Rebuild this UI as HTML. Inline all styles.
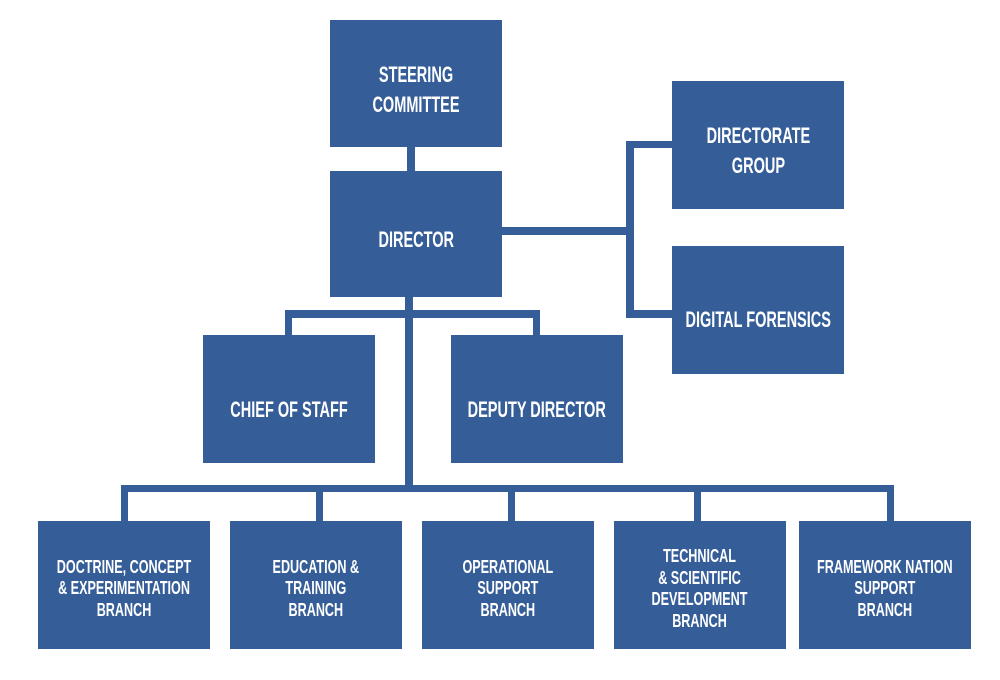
<!DOCTYPE html>
<html><head><meta charset="utf-8"><style>
body{margin:0;width:1000px;height:680px;background:#fff;position:relative;overflow:hidden}
.b{position:absolute;background:#355d98;color:#fff;display:flex;align-items:center;justify-content:center;text-align:center;box-sizing:border-box}
.b span{font-family:"Liberation Sans",sans-serif;font-weight:bold;font-size:22px;line-height:30px;transform:scaleX(0.66);white-space:nowrap;display:inline-block}
.s span{font-size:18px;line-height:21.5px;transform:scaleX(0.7)}
.l{position:absolute;background:#355d98}
</style></head><body>
<div class="l" style="left:407px;top:145px;width:8px;height:28px"></div>
<div class="l" style="left:500px;top:227px;width:134px;height:8px"></div>
<div class="l" style="left:626px;top:141px;width:8px;height:177px"></div>
<div class="l" style="left:626px;top:141px;width:48px;height:7px"></div>
<div class="l" style="left:626px;top:310px;width:48px;height:8px"></div>
<div class="l" style="left:405px;top:295px;width:8px;height:195px"></div>
<div class="l" style="left:285px;top:310px;width:255px;height:8px"></div>
<div class="l" style="left:285px;top:310px;width:7px;height:27px"></div>
<div class="l" style="left:533px;top:310px;width:7px;height:27px"></div>
<div class="l" style="left:121px;top:485px;width:773px;height:7px"></div>
<div class="l" style="left:121px;top:485px;width:7px;height:38px"></div>
<div class="l" style="left:316px;top:485px;width:7px;height:38px"></div>
<div class="l" style="left:508px;top:485px;width:7px;height:38px"></div>
<div class="l" style="left:694px;top:485px;width:7px;height:38px"></div>
<div class="l" style="left:887px;top:485px;width:7px;height:38px"></div>

<div class="b" style="left:330px;top:20px;width:172px;height:127px;padding-top:12px"><span>STEERING<br>COMMITTEE</span></div>
<div class="b" style="left:330px;top:171px;width:172px;height:126px;padding-top:12px"><span>DIRECTOR</span></div>
<div class="b" style="left:672px;top:81px;width:172px;height:128px;padding-top:12px"><span>DIRECTORATE<br>GROUP</span></div>
<div class="b" style="left:672px;top:246px;width:172px;height:128px;padding-top:20px"><span>DIGITAL FORENSICS</span></div>
<div class="b" style="left:203px;top:335px;width:172px;height:128px;padding-top:22px"><span>CHIEF OF STAFF</span></div>
<div class="b" style="left:451px;top:335px;width:172px;height:128px;padding-top:22px"><span>DEPUTY DIRECTOR</span></div>
<div class="b s" style="left:38px;top:521px;width:172px;height:128px;padding-top:8px"><span>DOCTRINE, CONCEPT<br>&amp; EXPERIMENTATION<br>BRANCH</span></div>
<div class="b s" style="left:230px;top:521px;width:172px;height:128px;padding-top:8px"><span>EDUCATION &amp;<br>TRAINING<br>BRANCH</span></div>
<div class="b s" style="left:422px;top:521px;width:172px;height:128px;padding-top:8px"><span>OPERATIONAL<br>SUPPORT<br>BRANCH</span></div>
<div class="b s" style="left:614px;top:521px;width:172px;height:128px;padding-top:8px"><span>TECHNICAL<br>&amp; SCIENTIFIC<br>DEVELOPMENT<br>BRANCH</span></div>
<div class="b s" style="left:799px;top:521px;width:172px;height:128px;padding-top:8px"><span>FRAMEWORK NATION<br>SUPPORT<br>BRANCH</span></div>
</body></html>
